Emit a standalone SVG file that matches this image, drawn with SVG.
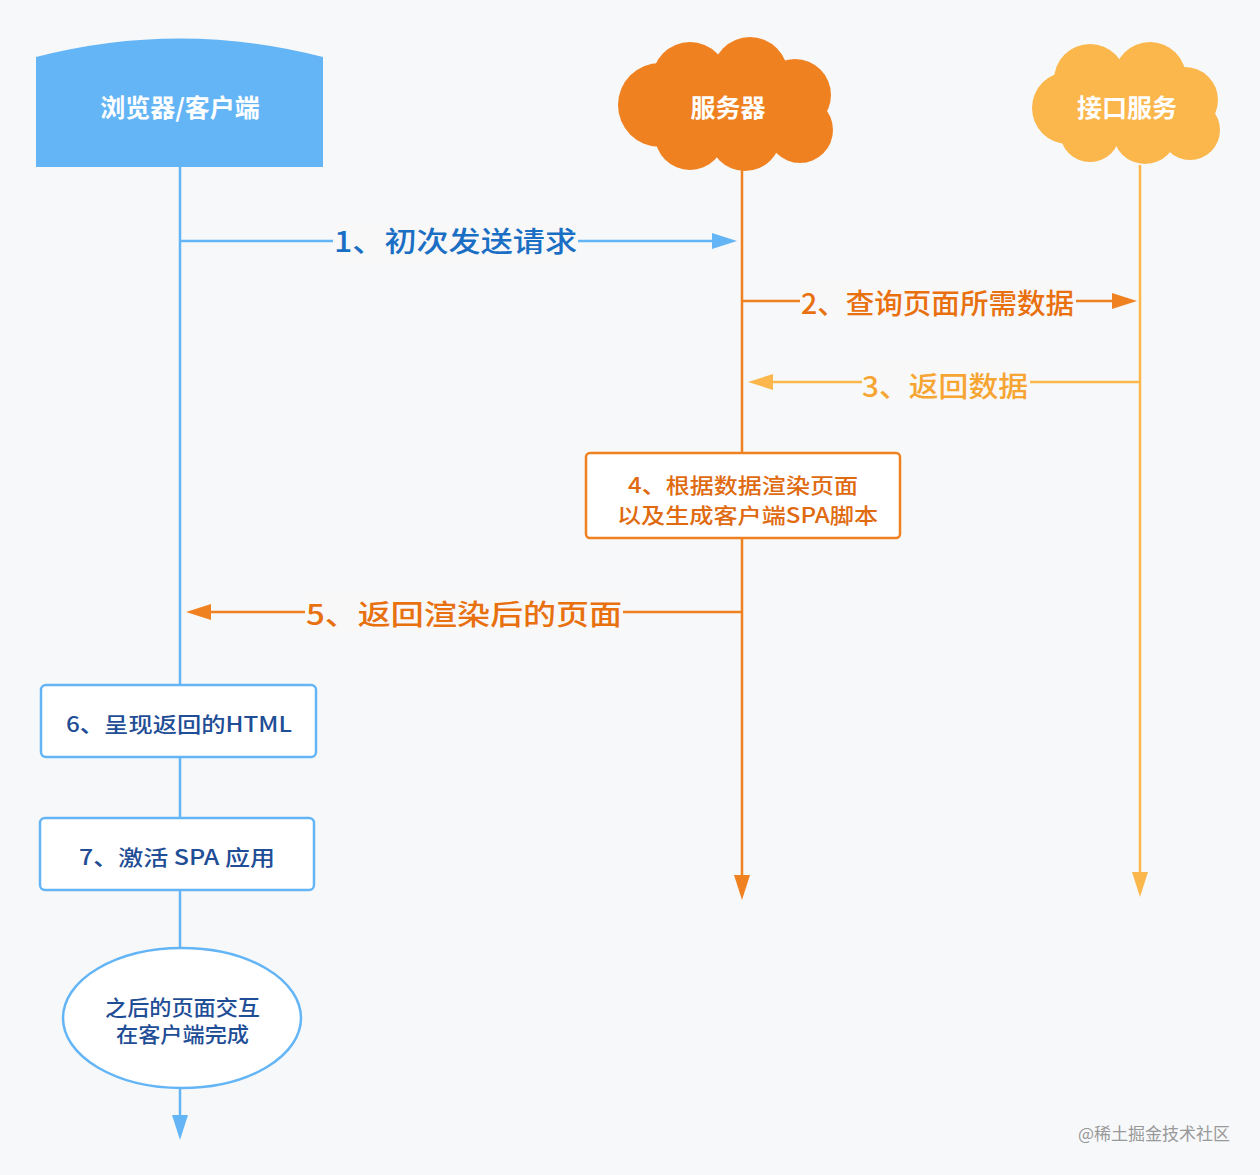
<svg xmlns="http://www.w3.org/2000/svg" width="1260" height="1175" viewBox="0 0 1260 1175">
<style>
text{font-family:"Noto Sans CJK SC","Noto Sans",sans-serif}
.hd{fill:#fff;font-size:25px;font-weight:bold;text-anchor:middle}
.lb{font-size:28px;font-weight:500}
.bx{fill:#1f4e96;font-size:21px;font-weight:500}
</style>
<rect width="1260" height="1175" fill="#f7f8f9"/>
<g id="connectors" fill="none" stroke-width="2.5">
<line x1="180" y1="165" x2="180" y2="1125" stroke="#64b5f6"/>
<path d="M180,1115 l-8,0 8,25 8,-25z" fill="#64b5f6" stroke="none"/>
<line x1="742" y1="165" x2="742" y2="885" stroke="#f08121"/>
<path d="M742,875 l-8,0 8,25 8,-25z" fill="#f08121" stroke="none"/>
<line x1="1140" y1="165" x2="1140" y2="880" stroke="#fbb64c"/>
<path d="M1140,872 l-8,0 8,25 8,-25z" fill="#fbb64c" stroke="none"/>
<line x1="180" y1="241" x2="715" y2="241" stroke="#64b5f6"/>
<path d="M737,241 l-25,-8 0,16z" fill="#64b5f6" stroke="none"/>
<line x1="742" y1="301" x2="1115" y2="301" stroke="#f08121"/>
<path d="M1137,301 l-25,-8 0,16z" fill="#f08121" stroke="none"/>
<line x1="770" y1="382" x2="1140" y2="382" stroke="#fbb64c"/>
<path d="M748,382 l25,-8 0,16z" fill="#fbb64c" stroke="none"/>
<line x1="210" y1="612" x2="742" y2="612" stroke="#f08121"/>
<path d="M186,612 l25,-8 0,16z" fill="#f08121" stroke="none"/>
</g>
<g id="labels">
<rect x="333" y="222" width="245" height="40" fill="#f8f8f8"/>
<text x="334" y="252" class="lb" fill="#1a6fc4" textLength="243" lengthAdjust="spacingAndGlyphs">1、初次发送请求</text>
<rect x="800" y="283" width="276" height="38" fill="#f8f8f8"/>
<text x="801" y="314" class="lb" fill="#e8700f" textLength="273" lengthAdjust="spacingAndGlyphs">2、查询页面所需数据</text>
<rect x="862" y="363" width="168" height="38" fill="#f8f8f8"/>
<text x="862" y="397" class="lb" fill="#f7a532" textLength="166" lengthAdjust="spacingAndGlyphs">3、返回数据</text>
<rect x="305" y="592" width="318" height="40" fill="#f8f8f8"/>
<text x="306" y="625" class="lb" fill="#e8700f" textLength="316" lengthAdjust="spacingAndGlyphs">5、返回渲染后的页面</text>
</g>
<g id="browser">
<path d="M36,57 Q180,20 323,57 L323,167 L36,167 Z" fill="#64b5f6"/>
<text x="180" y="117" class="hd">浏览器/客户端</text>
</g>
<g id="server" fill="#f08121">
<circle cx="690" cy="80" r="38"/><circle cx="750" cy="75" r="38"/><circle cx="795" cy="95" r="36"/>
<circle cx="660" cy="105" r="42"/><circle cx="800" cy="130" r="33"/><circle cx="690" cy="135" r="35"/>
<circle cx="745" cy="135" r="36"/><rect x="660" y="80" width="140" height="70"/>
<text x="728" y="117" class="hd">服务器</text>
</g>
<g id="api" fill="#fbb64c">
<circle cx="1090" cy="80" r="36"/><circle cx="1150" cy="78" r="36"/><circle cx="1185" cy="100" r="33"/>
<circle cx="1068" cy="108" r="36"/><circle cx="1190" cy="130" r="30"/><circle cx="1090" cy="132" r="30"/>
<circle cx="1145" cy="132" r="32"/><rect x="1070" y="80" width="130" height="60"/>
<text x="1127" y="117" class="hd">接口服务</text>
</g>
<g id="render">
<rect x="586" y="453" width="314" height="85" rx="4" fill="#fff" stroke="#f08121" stroke-width="2.5"/>
<text x="628" y="493" class="bx" style="fill:#e06a10" textLength="230" lengthAdjust="spacingAndGlyphs">4、根据数据渲染页面</text>
<text x="617" y="523" class="bx" style="fill:#e06a10" textLength="261" lengthAdjust="spacingAndGlyphs">以及生成客户端SPA脚本</text>
</g>
<g id="step6">
<rect x="41" y="685" width="275" height="72" rx="5" fill="#fff" stroke="#64b5f6" stroke-width="2.5"/>
<text x="66" y="732" class="bx" textLength="226" lengthAdjust="spacingAndGlyphs">6、呈现返回的HTML</text>
</g>
<g id="step7">
<rect x="40" y="818" width="274" height="72" rx="5" fill="#fff" stroke="#64b5f6" stroke-width="2.5"/>
<text x="79" y="865" class="bx" textLength="196" lengthAdjust="spacingAndGlyphs">7、激活 SPA 应用</text>
</g>
<g id="end">
<ellipse cx="182" cy="1018" rx="119" ry="70" fill="#fff" stroke="#64b5f6" stroke-width="2.5"/>
<text x="105" y="1015" class="bx" font-size="20" textLength="155" lengthAdjust="spacingAndGlyphs">之后的页面交互</text>
<text x="116" y="1042" class="bx" font-size="20" textLength="133" lengthAdjust="spacingAndGlyphs">在客户端完成</text>
</g>
<text x="1230" y="1140" font-size="17" fill="#999" text-anchor="end">@稀土掘金技术社区</text>
</svg>
